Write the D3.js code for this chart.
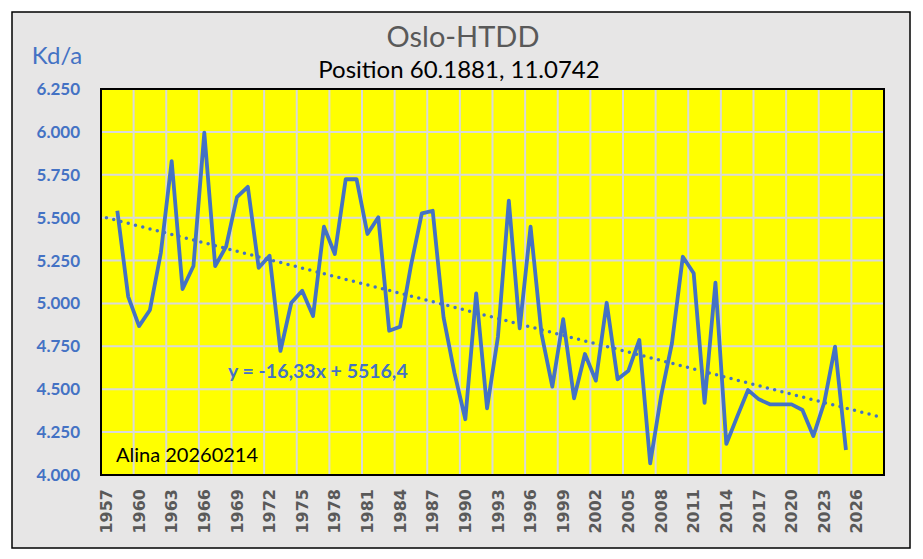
<!DOCTYPE html>
<html>
<head>
<meta charset="utf-8">
<script src="https://cdn.jsdelivr.net/npm/d3@7"></script>
<style>
  body { margin: 0; background: #fff; }
  svg { display: block; font-family: Lato, "Open Sans", sans-serif; }
</style>
</head>
<body>
<svg width="923" height="559"></svg>
<script>
// category labels run 1957..2028 (72 slots), first slot has no value
const years = d3.range(1957, 2029).map(String);
const hdd = [null,
  5540, 5040, 4868, 4962, 5294, 5830, 5084, 5218, 5995, 5218,
  5331, 5620, 5680, 5208, 5278, 4723, 5004, 5074, 4927, 5447,
  5288, 5724, 5724, 5405, 5502, 4841, 4864, 5220, 5525, 5540,
  4919, 4595, 4325, 5059, 4389, 4806, 5599, 4855, 5447, 4826,
  4515, 4908, 4447, 4705, 4550, 5004, 4558, 4608, 4787, 4068,
  4460, 4768, 5272, 5176, 4421, 5121, 4181, 4340, 4495, 4441,
  4412, 4412, 4412, 4379, 4227, 4421, 4748, 4146];
const trendSlope = -16.33;
const trendIntercept = 5516.4;
const yTicks = d3.range(4000, 6251, 250);

const svg = d3.select('svg');
const width = +svg.attr('width');
const height = +svg.attr('height');

const blue = '#4472C4';
const grey = '#595959';

const plot = { left: 101, right: 884, top: 89, bottom: 475 };

const loc = d3.formatLocale({ decimal: ',', thousands: '.', grouping: [3], currency: ['', ''], minus: '-' });
const fmtTick = loc.format(',d');

// chart area
svg.append('rect')
  .attr('x', 12).attr('y', 12)
  .attr('width', 898).attr('height', 536)
  .attr('fill', '#E7E6E6')
  .attr('stroke', '#000').attr('stroke-width', 1.5);

const x = d3.scaleBand()
  .domain(years)
  .range([plot.left, plot.right])
  .paddingInner(0).paddingOuter(0);
const xc = (yr) => x(yr) + x.bandwidth() / 2;

const y = d3.scaleLinear()
  .domain([4000, 6250])
  .range([plot.bottom, plot.top]);

svg.append('rect')
  .attr('x', plot.left).attr('y', plot.top)
  .attr('width', plot.right - plot.left).attr('height', plot.bottom - plot.top)
  .attr('fill', '#FFFF00');

// gridlines
const grid = svg.append('g').attr('stroke', '#D9D9D9').attr('stroke-width', 2);
grid.selectAll('line.h')
  .data(yTicks)
  .enter().append('line')
  .attr('x1', plot.left).attr('x2', plot.right)
  .attr('y1', (d) => y(d)).attr('y2', (d) => y(d));
grid.selectAll('line.v')
  .data(years.filter((d, i) => i % 3 === 0 && i > 0))
  .enter().append('line')
  .attr('x1', (d) => x(d)).attr('x2', (d) => x(d))
  .attr('y1', plot.top).attr('y2', plot.bottom);

// y axis labels
const yAxis = d3.axisLeft(y).tickValues(yTicks).tickFormat(fmtTick).tickSize(0).tickPadding(0);
const gy = svg.append('g').attr('transform', `translate(80,0)`).call(yAxis);
gy.select('.domain').remove();
gy.selectAll('text')
  .attr('fill', blue).attr('font-size', 17).attr('font-weight', 'bold')
  .attr('font-family', 'Lato, sans-serif');

// x axis labels
const xAxis = d3.axisBottom(x)
  .tickValues(years.filter((d, i) => i % 3 === 0))
  .tickSize(0).tickPadding(0);
const gx = svg.append('g').attr('transform', `translate(0,${plot.bottom})`).call(xAxis);
gx.select('.domain').remove();
gx.selectAll('text')
  .attr('fill', grey).attr('font-size', 16).attr('font-weight', 'bold')
  .attr('font-family', '"DejaVu Sans", sans-serif')
  .attr('text-anchor', 'end')
  .attr('transform', 'translate(0,14) rotate(-90)')
  .attr('x', 0).attr('y', 0).attr('dy', '0.35em');

// data line
const line = d3.line()
  .defined((d) => d.v != null)
  .x((d) => xc(d.year))
  .y((d) => y(d.v));
const series = years.map((yr, i) => ({ year: yr, v: hdd[i] }));
svg.append('path')
  .datum(series)
  .attr('d', line)
  .attr('fill', 'none')
  .attr('stroke', blue)
  .attr('stroke-width', 3.8)
  .attr('stroke-linejoin', 'round');

// linear trendline (x = 1..n)
const trend = years.map((yr, i) => ({ year: yr, v: trendIntercept + trendSlope * (i + 1) }));
svg.append('path')
  .datum([trend[0], trend[trend.length - 1]])
  .attr('d', line)
  .attr('fill', 'none')
  .attr('stroke', blue)
  .attr('stroke-width', 3.5)
  .attr('stroke-linecap', 'round')
  .attr('stroke-dasharray', '0,7.5');

// plot border
svg.append('rect')
  .attr('x', plot.left).attr('y', plot.top)
  .attr('width', plot.right - plot.left).attr('height', plot.bottom - plot.top)
  .attr('fill', 'none').attr('stroke', '#000').attr('stroke-width', 2);

// texts
svg.append('text')
  .attr('x', 463).attr('y', 47)
  .attr('text-anchor', 'middle')
  .attr('fill', grey).attr('font-size', 29)
  .text('Oslo-HTDD');
svg.append('text')
  .attr('x', 459).attr('y', 78)
  .attr('text-anchor', 'middle')
  .attr('fill', '#000').attr('font-size', 24)
  .text('Position 60.1881, 11.0742');
svg.append('text')
  .attr('x', 57).attr('y', 64)
  .attr('text-anchor', 'middle')
  .attr('fill', blue).attr('font-size', 24)
  .text('Kd/a');
svg.append('text')
  .attr('x', 228).attr('y', 378)
  .attr('fill', blue).attr('font-size', 19.5).attr('font-weight', 'bold')
  .text(`y = ${loc.format('.2f')(trendSlope)}x + ${loc.format('.1f')(trendIntercept)}`);
svg.append('text')
  .attr('x', 116).attr('y', 462)
  .attr('fill', '#000').attr('font-size', 20)
  .text('Alina 20260214');
</script>
</body>
</html>
